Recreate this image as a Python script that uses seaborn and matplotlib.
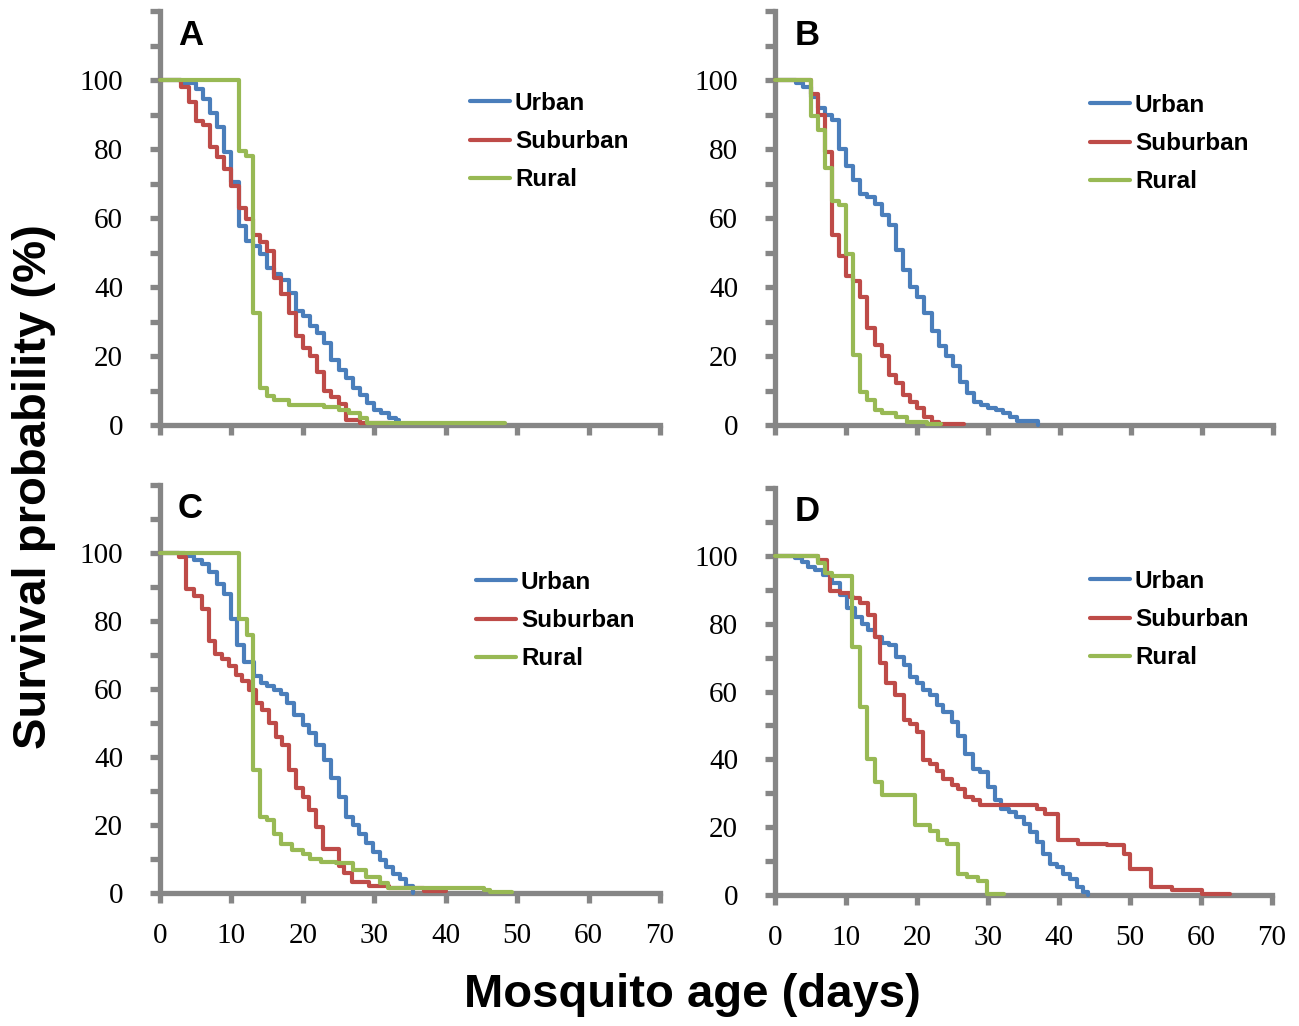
import matplotlib
matplotlib.use("Agg")
import matplotlib.pyplot as plt
from matplotlib.lines import Line2D
import pandas as pd
import seaborn as sns

sns.set_style("white")
plt.rcParams['font.family'] = ['Liberation Sans', 'DejaVu Sans']
plt.rcParams['text.color'] = 'black'

groups = ["Urban", "Suburban", "Rural"]
colors = ["#4a7ebb", "#be4b48", "#98b954"]
panel_letters = ["A", "B", "C", "D"]
x_ticks = [0, 10, 20, 30, 40, 50, 60, 70]
y_ticks = [0, 20, 40, 60, 80, 100]
y_minor = [10, 30, 50, 70, 90, 110, 120]

# panel A
a_urban_day = [0, 3, 5, 6, 7, 8, 9, 10, 11, 12, 13, 14, 15, 16, 17, 18, 19, 20, 21, 22,
               23, 24, 25, 26, 27, 28, 29, 30, 31, 32, 33, 33.5]
a_urban_surv = [100, 99, 97.5, 94.5, 90.3, 86.4, 79, 70.4, 57.8, 53.4, 52, 49.5, 45.6, 43.7,
                42, 38.3, 33, 31.5, 28.6, 26.7, 23.8, 18.9, 16, 13.5, 10.7, 8.7, 6.3, 4.4,
                3.4, 1.9, 1.5, 1.5]
a_sub_day = [0, 3, 4, 5, 6, 7, 8, 9, 10, 11, 12, 13, 14, 15, 16, 17, 18, 19, 20, 21, 22,
             23, 24, 25, 26, 28, 32]
a_sub_surv = [100, 98, 93.7, 88, 87, 80.6, 77.7, 74.3, 69.4, 63, 59.7, 55, 53, 50.5, 42.7,
              38, 32.5, 25.7, 22.3, 20, 15.5, 10, 8, 6, 1.5, 0.5, 0.5]
a_rural_day = [0, 11, 12, 13, 14, 15, 16, 18, 23, 25, 26.5, 28, 29, 48.3]
a_rural_surv = [100, 79.3, 78, 32.5, 10.7, 8.3, 7.3, 5.8, 5.3, 4.4, 3.4, 1.9, 0.5, 0.5]

# panel B
b_urban_day = [0, 3, 4, 5, 6, 7, 8, 9, 10, 11, 12, 13, 14, 15, 16, 17, 18, 19, 20, 21, 22,
               23, 24, 25, 26, 27, 28, 29, 30, 31, 32, 33, 34, 37]
b_urban_surv = [100, 99, 98, 95, 92, 90, 88.5, 80, 75, 71, 67, 66, 64, 61, 58, 50.6, 45, 40,
                37, 32.6, 27.2, 22.9, 20, 17, 12.6, 9.2, 6.8, 5.8, 4.9, 4.4, 3.4, 2.4, 1.2, 0]
b_sub_day = [0, 5, 6, 7, 8, 9, 10, 11, 12, 13, 14, 15, 16, 17, 18, 19, 20, 21, 22, 23, 26.5]
b_sub_surv = [100, 96, 90, 79, 55, 49, 43.3, 41.8, 37, 28, 23.3, 20, 14.6, 12.2, 8.8, 6.8,
              4.9, 2.4, 1, 0.3, 0.3]
b_rural_day = [0, 5, 6, 7, 8, 9, 10, 11, 12, 13, 14, 15, 17, 18.5, 21.3, 23.4]
b_rural_surv = [100, 89.5, 85.6, 74.4, 65, 63.7, 49.6, 20.4, 9.7, 7.3, 4.4, 3.4, 2.4, 1, 0.3, 0.3]

# panel C
c_urban_day = [0, 3.5, 4.7, 5.9, 6.8, 8, 8.9, 9.9, 10.8, 11.7, 13.1, 14.1, 15, 16, 16.9, 17.8,
               18.8, 20, 20.9, 21.8, 23, 23.9, 25.1, 26.1, 27, 27.9, 28.9, 29.8, 30.8, 31.7,
               32.6, 33.6, 34.5, 35.4]
c_urban_surv = [100, 99.2, 98, 96.7, 94.3, 90.8, 87.9, 80.5, 73, 68, 63.8, 61.8, 60.8, 59.8,
                58.4, 55.9, 52.5, 49.5, 47, 43.6, 39.2, 33.8, 28.3, 22.4, 20, 17.5, 14.6, 12.1,
                9.6, 7.7, 5.7, 4.2, 2.2, 0]
c_sub_day = [0, 2.6, 3.6, 4.7, 5.9, 6.8, 7.7, 8.7, 9.6, 10.6, 11.5, 12.4, 13.4, 14.3, 15.3,
             16.2, 17.1, 18.1, 19, 20, 20.9, 21.8, 22.8, 25, 25.8, 26.9, 29.2, 32, 37, 40]
c_sub_surv = [100, 98.7, 89.4, 87.4, 83.5, 74, 70.2, 68.7, 66.7, 64.2, 62.3, 59.8, 55.9, 53.9,
              50, 46, 43.6, 36.2, 30.8, 28.3, 24.4, 19.5, 13, 7.9, 5.8, 3.1, 2.1, 1.6, 0.5, 0.5]
c_rural_day = [0, 11, 12.2, 13, 14, 15, 16, 17, 18.5, 20, 21, 22.5, 24.6, 27, 28.9, 30.8,
               31.9, 45.3, 46.2, 49.3]
c_rural_surv = [100, 80.5, 76, 36.2, 22.4, 21.5, 17.5, 14.5, 12.6, 11.6, 10.1, 9.1, 8.7, 6.7,
                4.7, 2.8, 1.5, 1.0, 0.4, 0.4]

# panel D
d_urban_day = [0, 2.8, 3.8, 4.7, 5.6, 6.8, 8, 9.2, 10.1, 11.3, 12.2, 13.1, 14.1, 15, 16, 17.1,
               18.1, 19, 20, 20.9, 21.8, 22.8, 23.7, 24.9, 25.8, 26.8, 27.9, 28.9, 30, 31,
               31.9, 32.9, 34, 35, 35.9, 36.9, 37.8, 38.7, 39.7, 40.6, 41.5, 42.5, 43.4, 44.1]
d_urban_surv = [100, 99.3, 98.3, 96.8, 95.9, 94.4, 91.9, 88.5, 84.5, 82, 80, 78, 76.2, 74.2,
                73.7, 70.2, 67.8, 64.3, 62.4, 60.4, 58.9, 56, 54, 51, 47, 41.7, 37.2, 36.3,
                31.8, 27.9, 25.4, 24.4, 23, 21, 18.5, 15.6, 12.1, 9.2, 8.2, 6.2, 4.7, 2.3, 0.8, 0]
d_sub_day = [0, 6.1, 7.3, 7.8, 9.2, 10.5, 11, 12, 13.1, 14.1, 14.8, 15.7, 16.9, 18.1, 19, 20,
             20.9, 21.8, 22.8, 23.7, 24.9, 25.8, 26.8, 27.9, 28.9, 36.9, 38, 39.9, 42.7, 46.7,
             49.1, 50, 53, 55.9, 60.1, 64.1]
d_sub_surv = [100, 98.8, 94.9, 89.5, 89, 88, 87.5, 86, 82.6, 76.2, 68.3, 62.4, 58.9, 51.5, 50.5,
              48, 39.7, 38.7, 36.7, 34.3, 32.3, 31.3, 28.9, 27.9, 26.4, 25.4, 24, 16.1, 15.1,
              14.6, 12.1, 7.7, 2.3, 1.5, 0.3, 0.3]
d_rural_day = [0, 6.1, 7, 8, 10.8, 12, 12.9, 14.1, 15, 19.7, 21.8, 23, 24.2, 25.8, 27, 28.6,
               29.8, 32.2]
d_rural_surv = [100, 97.8, 95, 94, 73.2, 55.5, 40.2, 33.3, 29.4, 20.5, 19, 16.1, 15.1, 6.2, 5.2,
                4.2, 0.3, 0.3]

panel_days = [
    [a_urban_day, a_sub_day, a_rural_day],
    [b_urban_day, b_sub_day, b_rural_day],
    [c_urban_day, c_sub_day, c_rural_day],
    [d_urban_day, d_sub_day, d_rural_day],
]
panel_surv = [
    [a_urban_surv, a_sub_surv, a_rural_surv],
    [b_urban_surv, b_sub_surv, b_rural_surv],
    [c_urban_surv, c_sub_surv, c_rural_surv],
    [d_urban_surv, d_sub_surv, d_rural_surv],
]

W, H = 1299, 1026
fig = plt.figure(figsize=(W / 100, H / 100), dpi=100)

# axes rectangles in pixels: left, x70, y0, y120
rects = [(160, 660, 425, 11), (775, 1273, 425, 11), (160, 660, 893, 485), (775, 1272, 895, 488)]
legend_pos = [(470, 92), (1090, 94), (476, 571), (1090, 570)]
letter_pos = [(178, 45), (795, 45), (178, 518), (795, 521)]

grey = "#868686"
palette = dict(zip(groups, colors))

for i in range(4):
    x0, x1, yb, yt = rects[i]
    ax = fig.add_axes([x0 / W, 1 - yb / H, (x1 - x0) / W, (yb - yt) / H])
    frames = []
    for g, d, s in zip(groups, panel_days[i], panel_surv[i]):
        frames.append(pd.DataFrame({"day": d, "surv": s, "group": g}))
    df = pd.concat(frames, ignore_index=True)
    sns.lineplot(data=df, x="day", y="surv", hue="group", palette=palette,
                 estimator=None, drawstyle="steps-post", lw=3.0, legend=False,
                 ax=ax, zorder=3, clip_on=False)

    ax.set_xlim(0, 70)
    ax.set_ylim(0, 120)
    for side in ["top", "right"]:
        ax.spines[side].set_visible(False)
    for side in ["left", "bottom"]:
        ax.spines[side].set_color(grey)
        ax.spines[side].set_linewidth(3.8)
    ax.set_xticks(x_ticks)
    ax.set_yticks(y_ticks)
    ax.set_yticks(y_minor, minor=True)
    ax.tick_params(which="both", direction="out", length=7.5, width=3.8, color=grey,
                   left=True, bottom=True, labelsize=21,
                   labelfontfamily="Liberation Serif", labelcolor="black")
    ax.tick_params(axis="y", pad=19)
    ax.tick_params(axis="x", pad=14)
    if i < 2:
        ax.tick_params(axis="x", labelbottom=False)
    ax.set_xlabel("")
    ax.set_ylabel("")

    handles = [Line2D([0], [0], color=c, lw=3.0) for c in colors]
    lx, ly = legend_pos[i]
    ax.legend(handles, groups, loc="upper left", bbox_to_anchor=(lx / W, 1 - ly / H),
              bbox_transform=fig.transFigure, frameon=False, borderpad=0,
              borderaxespad=0, handlelength=1.65, handletextpad=0.2, labelspacing=0.62,
              prop={"weight": "bold", "size": 17.5}, labelcolor="black")

    tx, ty = letter_pos[i]
    fig.text(tx / W, 1 - ty / H, panel_letters[i], fontsize=25, fontweight="bold",
             ha="left", va="baseline", color="black")

fig.text(34 / W, 1 - 487 / H, "Survival probability (%)", rotation=90, fontsize=34,
         fontweight="bold", ha="center", va="center", color="black")
fig.text(692 / W, 1 - 1007 / H, "Mosquito age (days)", fontsize=34, fontweight="bold",
         ha="center", va="baseline", color="black")

fig.savefig("out.png", dpi=100, facecolor="white")
